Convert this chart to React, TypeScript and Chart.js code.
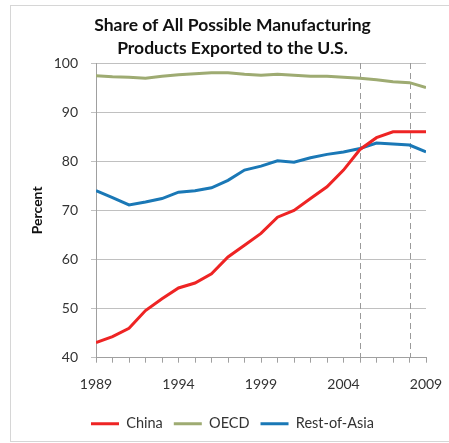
import React, { useEffect, useRef } from "react";
import { Chart, registerables } from "chart.js";

Chart.register(...registerables);

const years = [1989, 1990, 1991, 1992, 1993, 1994, 1995, 1996, 1997, 1998, 1999, 2000, 2001, 2002, 2003, 2004, 2005, 2006, 2007, 2008, 2009];
const china = [43.1, 44.3, 46.0, 49.6, 52.0, 54.2, 55.2, 57.1, 60.5, 62.9, 65.3, 68.6, 70.0, 72.4, 74.8, 78.2, 82.4, 84.8, 86.0, 86.0, 86.0];
const oecd = [97.4, 97.2, 97.1, 96.9, 97.3, 97.6, 97.8, 98.0, 98.0, 97.7, 97.5, 97.7, 97.5, 97.3, 97.3, 97.1, 96.9, 96.6, 96.2, 96.0, 95.0];
const restOfAsia = [74.0, 72.6, 71.1, 71.7, 72.4, 73.7, 74.0, 74.6, 76.1, 78.2, 79.0, 80.1, 79.8, 80.7, 81.4, 81.9, 82.6, 83.7, 83.5, 83.3, 81.9];
const markerYears = [2005, 2008];
const titleLines = ["Share of All Possible Manufacturing", "Products Exported to the U.S."];

const FONT = "Lato";

const dashedLines = {
  id: "dashedLines",
  beforeDatasetsDraw(chart: any) {
    const { ctx, chartArea, scales } = chart;
    ctx.save();
    ctx.strokeStyle = "#9a9a9a";
    ctx.lineWidth = 1;
    ctx.setLineDash([6, 4]);
    markerYears.forEach((yr) => {
      const x = Math.round(scales.x.getPixelForValue(yr)) + 0.5;
      ctx.beginPath();
      ctx.moveTo(x, chartArea.top);
      ctx.lineTo(x, chartArea.bottom);
      ctx.stroke();
    });
    ctx.restore();
  },
};

export default function App() {
  const ref = useRef<HTMLCanvasElement>(null);
  useEffect(() => {
    if (!ref.current) return;
    const mk = (arr: number[]) => arr.map((v, i) => ({ x: years[i], y: v }));
    const chart = new Chart(ref.current, {
      type: "line",
      data: {
        datasets: [
          { label: "China", data: mk(china), borderColor: "#ee2424", backgroundColor: "#ee2424", borderWidth: 3, pointRadius: 0, tension: 0 },
          { label: "OECD", data: mk(oecd), borderColor: "#9eab72", backgroundColor: "#9eab72", borderWidth: 3, pointRadius: 0, tension: 0 },
          { label: "Rest-of-Asia", data: mk(restOfAsia), borderColor: "#1a78b6", backgroundColor: "#1a78b6", borderWidth: 3, pointRadius: 0, tension: 0 },
        ],
      },
      options: {
        animation: false,
        responsive: false,
        layout: { padding: { left: 24, right: 8, top: 6, bottom: 2 } },
        plugins: {
          title: {
            display: true,
            text: titleLines,
            color: "#111",
            font: { family: FONT, size: 17.5, weight: "bold", lineHeight: 23 / 17.5 },
            padding: { top: 7.5, bottom: 3.5 },
          },
          legend: {
            position: "bottom",
            labels: {
              usePointStyle: true,
              pointStyle: "line",
              pointStyleWidth: 28,
              color: "#333",
              font: { family: FONT, size: 14.5 },
              padding: 11,
            },
          },
          tooltip: { enabled: false },
        },
        scales: {
          x: {
            type: "linear",
            min: 1989,
            max: 2009,
            afterFit(s: any) {
              s.paddingLeft = 0;
              s.paddingRight = 23;
            },
            ticks: {
              stepSize: 1,
              autoSkip: false,
              maxRotation: 0,
              padding: 13,
              color: "#333",
              font: { family: FONT, size: 14 },
              callback: (v: any) => ((Number(v) - 1989) % 5 === 0 ? String(v) : ""),
            },
            grid: { drawOnChartArea: false, drawTicks: true, tickLength: 5, color: "#a0a0a0" },
            border: { color: "#a0a0a0" },
          },
          y: {
            min: 40,
            max: 100,
            afterFit(s: any) {
              s.width = 72;
              s.paddingTop = 0;
              s.paddingBottom = 0;
            },
            ticks: { stepSize: 10, padding: 13, color: "#333", font: { family: FONT, size: 14 } },
            grid: { color: "#c0c0c0", tickLength: 5 },
            border: { color: "#a0a0a0" },
            title: {
              display: true,
              text: "Percent",
              color: "#111",
              font: { family: FONT, size: 14, weight: "bold", lineHeight: 1.2 },
              padding: { top: 5, bottom: 0 },
            },
          },
        },
      },
      plugins: [dashedLines],
    } as any);
    return () => chart.destroy();
  }, []);
  return (
    <div style={{ position: "absolute", left: 0, top: 0, width: 449, height: 443, background: "#fff" }}>
      <div style={{ position: "absolute", left: 10, top: 5, width: 445, height: 435, borderLeft: "1px solid #d6d6d6", borderTop: "1px solid #d6d6d6", borderBottom: "1px solid #d6d6d6" }} />
      <canvas ref={ref} width={449} height={443} style={{ position: "absolute", left: 0, top: 0 }} />
    </div>
  );
}
